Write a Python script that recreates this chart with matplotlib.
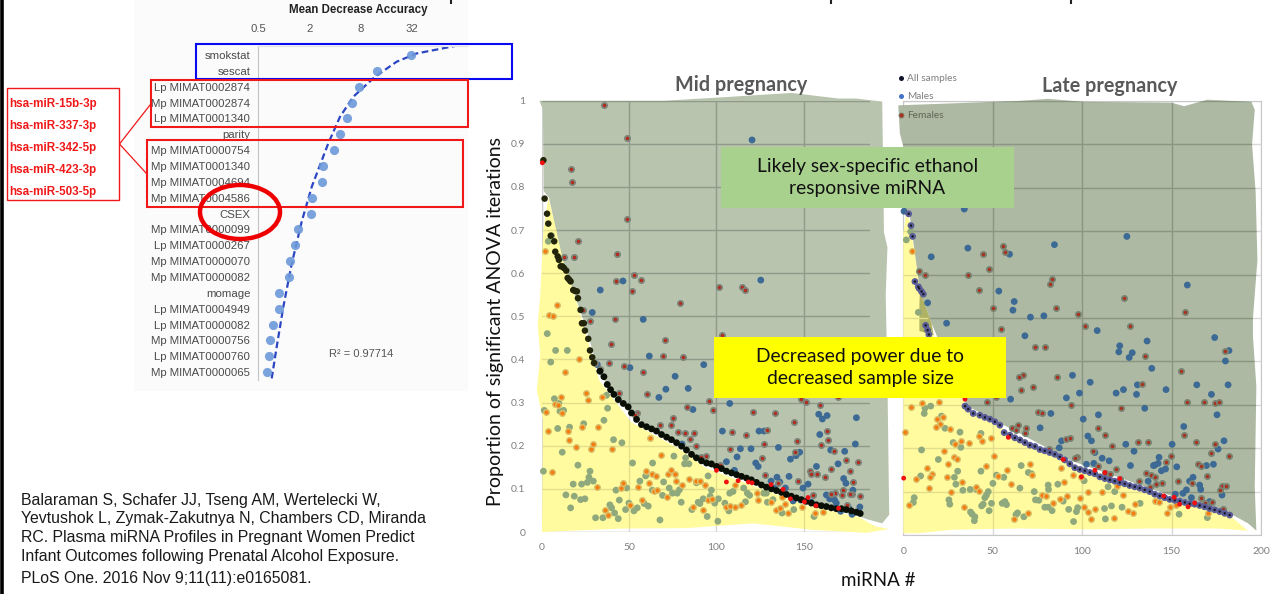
import numpy as np
import matplotlib
matplotlib.use("Agg")
import matplotlib.pyplot as plt
from matplotlib.patches import Rectangle, Ellipse, Polygon

W, H = 1271, 594
CAL = "Lato"
ARIAL = "Liberation Sans"

# left chart: variable importance
forest_labels = ["smokstat", "sescat", "Lp MIMAT0002874", "Mp MIMAT0002874", "Lp MIMAT0001340", "parity",
                 "Mp MIMAT0000754", "Mp MIMAT0001340", "Mp MIMAT0004694", "Mp MIMAT0004586", "CSEX",
                 "Mp MIMAT0000099", "Lp MIMAT0000267", "Mp MIMAT0000070", "Mp MIMAT0000082", "momage",
                 "Lp MIMAT0004949", "Lp MIMAT0000082", "Mp MIMAT0000756", "Lp MIMAT0000760", "Mp MIMAT0000065"]
forest_values = [31.2, 12.56, 7.6, 6.39, 5.58, 4.62, 3.9, 2.92, 2.82, 2.15, 2.08,
                 1.46, 1.36, 1.19, 1.165, 0.89, 0.89, 0.756, 0.69, 0.68, 0.633]
trend_x = [0.724, 0.829, 0.992, 1.24, 1.63, 2.14, 3.34, 4.58, 6.57, 11.8, 21.2, 36.4, 102]
trend_rank = [20.4, 18.4, 15.88, 13.2, 10.5, 8.3, 5.57, 3.9, 2.63, 1.37, 0.42, -0.1, -0.57]
forest_ticks = [0.5, 2, 8, 32]
mirna_names = ["hsa-miR-15b-3p", "hsa-miR-337-3p", "hsa-miR-342-5p", "hsa-miR-423-3p", "hsa-miR-503-5p"]
citation = ["Balaraman S, Schafer JJ, Tseng AM, Wertelecki W,",
            "Yevtushok L, Zymak-Zakutnya N, Chambers CD, Miranda",
            "RC. Plasma miRNA Profiles in Pregnant Women Predict",
            "Infant Outcomes following Prenatal Alcohol Exposure.",
            "PLoS One. 2016 Nov 9;11(11):e0165081."]

# mid pregnancy
mid_all = [(.8,.862),(1.5,.773),(2.9,.738),(3.6,.715),(5,.687),(7,.674),(7.6,.65),(9,.639),(9.7,.631),(10.7,.616),
           (11.6,.616),(12.6,.612),(13.9,.606),(14.7,.589),(15.6,.585),(16.4,.581),(17.9,.561),(18.9,.559),(20,.558),
           (20.6,.542),(22.1,.515),(22.9,.484),(24,.484),(24.6,.467),(26.5,.448),(27.5,.421),(28.8,.405),(29.8,.392),
           (33.2,.373),(35.5,.36),(37.4,.342),(39.3,.33),(41.2,.319),(43.7,.307),(46.6,.298),(49.4,.29),(51.3,.276),
           (54.2,.261),(57,.249),(59.9,.244),(62.8,.239),(65.6,.234),(68.5,.226),(71.4,.22),(74.2,.214),(77.1,.207),
           (80,.199),(82.8,.19),(85.7,.18),(88.5,.172),(91.4,.165),(94.3,.16),(97.1,.158),(100,.152),(102.9,.147),
           (105.7,.141),(108.6,.137),(111.5,.133),(114.3,.129),(117.2,.125),(120,.121),(122.9,.115),(125.8,.109),
           (128.6,.104),(131.5,.1),(134.4,.096),(137.2,.092),(140.1,.087),(142.9,.083),(145.8,.079),(148.7,.075),
           (151.5,.071),(154.4,.067),(157.3,.063),(160.1,.061),(163,.059),(165.8,.056),(168.7,.054),(171.6,.054),
           (174.4,.052),(177.3,.049),(180.2,.046),(182.4,.043)]
mid_female_high = [(35.5,.991),(48.5,.914),(16.6,.842),(17.2,.812),(49,.726),(20.6,.674),(43,.644),(12.4,.638),(18.5,.638),
                   (52.5,.595),(56.7,.584),(42.4,.581),(51.3,.558),(79,.531),(101.5,.567),(114.9,.567),(116.4,.561),
                   (23.3,.514),(41.6,.493),(27.3,.49),(70.4,.446),(39.5,.435),(69.5,.408),(30.2,.392),(38.4,.391),
                   (33.4,.377),(47.1,.386),(58,.37),(44.3,.323),(59.9,.319),(103.4,.456),(80.9,.405),(96,.303),(83,.289),
                   (97.9,.282),(54.4,.275),(53.2,.272),(75,.264),(74.2,.249),(67.6,.248),(78.2,.231),(81.9,.23),(87,.229),
                   (85.1,.215),(88.5,.199),(108.8,.231),(117.2,.226),(129.2,.237),(121.2,.278),(133.4,.275),(144.3,.256),
                   (127.1,.204),(108,.193),(126,.171),(128,.133),(102.3,.155),(93.9,.177),(91.2,.174),(135.3,.113),
                   (147,.118),(153.4,.141),(154.4,.135),(157.8,.135),(162,.127),(165.8,.146),(163.9,.213),(163.4,.234),
                   (160,.202),(146.2,.21),(145,.185),(159.2,.295),(151.1,.301),(148.3,.309),(169.7,.312),(181.3,.162),
                   (178.2,.115),(176.3,.141),(174.4,.168),(167.4,.187),(177.9,.087),(182.4,.083),(176.3,.087),(172.5,.098),
                   (167.7,.091),(165.8,.089),(171.9,.085),(175,.063),(155.2,.086)]
mid_female_edge = [(.2,.856),(100,.143),(105.7,.116),(112.4,.119),(118.3,.116),(120.4,.114),(131.3,.11),(138.2,.099),
                   (142.4,.077),(150.4,.07),(152.5,.08),(157,.061),(170,.055)]
mid_male_high = [(120.4,.909),(46.4,.582),(33.4,.561),(125.4,.584),(28.8,.509),(58,.493),(61.5,.408),(50.4,.381),(92.7,.388),
                 (76.3,.361),(71,.331),(83.8,.333),(67,.312),(86.5,.284),(107.6,.298),(103.4,.234),(124.4,.234),(127.3,.234),
                 (113.7,.193),(119.8,.193),(135.5,.196),(111.8,.174),(105.7,.163),(122.5,.16),(123.9,.152),(142.4,.169),
                 (145.6,.177),(147.7,.185),(110.3,.143),(131.3,.118),(134.7,.127),(141.6,.129),(136.3,.116),(139.5,.102),
                 (133.4,.102),(149.6,.102),(152.5,.111),(157.3,.152),(169.7,.158),(173.5,.187),(165.5,.19),(159.2,.226),
                 (158.6,.273),(160.7,.262),(163.4,.27),(180.2,.265),(179.6,.204),(172.9,.124),(174.2,.113),(163,.086),
                 (164.9,.077),(167.7,.074),(178.2,.097),(168.7,.067),(175.8,.056),(182.2,.058),(171.2,.048),(177.7,.041),
                 (154.4,.069),(148.3,.074),(143.9,.072),(33.2,.373),(80.3,.204),(31.7,.388)]
mid_male_low = [(3,.46),(7.8,.421),(14.5,.421),(5,.394),(.8,.141),(7.1,.309),(9.7,.298),(1.3,.282),(10.3,.28),(12.4,.282),
                (9,.24),(15.8,.243),(23.9,.251),(35.5,.259),(37.6,.287),(37,.317),(41,.214),(45.8,.207),(11.6,.185),(20.6,.155),
                (17.9,.111),(13.7,.086),(18.5,.083),(22.1,.075),(24.6,.077),(16.4,.056),(22.7,.111),(26,.115),(26.9,.127),
                (27.5,.141),(29.4,.118),(30.7,.033),(34.9,.033),(38.9,.063),(39.9,.056),(41.6,.044),(43.7,.031),(44.3,.074),
                (42.4,.097),(48.5,.102),(47.9,.052),(49.8,.067),(52.7,.049),(54.6,.056),(58.6,.066),(60.9,.06),(56.1,.118),
                (51.9,.16),(59.4,.13),(63.4,.16),(63.2,.097),(69.1,.085),(69.7,.116),(72.9,.102),(74.8,.09),(77.5,.09),
                (78.8,.098),(75.6,.176),(82.3,.172),(81.7,.158),(84.2,.158),(79.8,.069),(85.9,.052),(88.5,.114),(67.6,.028),
                (95.2,.13),(94.7,.036),(100.8,.025),(97.1,.097),(96.4,.083),(90.5,.066),(89.5,.069),(92.4,.077),(99,.067),
                (101.1,.077),(104.8,.067),(107.1,.049),(107.6,.09),(109.5,.094),(115.6,.102),(117.7,.09),(119,.085),(116.6,.07),
                (144.3,.052),(137.6,.044),(155.9,.036),(132.4,.075),(128.6,.09),(129.2,.069),(127.1,.09),(3.6,.674),(5.5,.687)]
mid_female_low = [(21.2,.401),(13.2,.372),(2.3,.278),(3.6,.234),(7.6,.296),(9,.295),(10.9,.313),(11.3,.275),(25.2,.323),
                  (26.1,.305),(34.2,.312),(22.7,.243),(32.3,.243),(14.7,.234),(15.3,.214),(19.3,.196),(28.1,.193),(29.4,.204),
                  (40.3,.193),(5.5,.138),(31.3,.105),(36.1,.052),(37.6,.039),(45,.102),(46.6,.113),(50.4,.063),(55.2,.104),
                  (57.1,.075),(59.5,.141),(61.5,.113),(63.2,.135),(65.3,.13),(64.3,.094),(66,.098),(71.4,.08),(72.3,.135),
                  (73.7,.143),(76.1,.135),(76.9,.118),(80.5,.108),(84.5,.124),(86.5,.058),(88.5,.119),(90.6,.119),(92,.052),
                  (93.3,.108),(95.2,.074),(97.5,.077),(61.8,.218),(68.1,.179),(110.5,.11),(105.2,.058),(107.6,.061),(110.5,.058),
                  (114.3,.063),(123.3,.091),(123.9,.074),(131.3,.069),(134,.052),(136.3,.056),(137.6,.08),(139.5,.066),(140.8,.044),
                  (142.6,.083),(148.9,.058),(156.5,.044),(161.1,.046),(8.4,.526),(4.2,.503),(6.3,.501),(1.7,.652)]

# late pregnancy
late_all = [(3,.74),(4.3,.713),(5.2,.688),(6.5,.584),(8.4,.572),(8.9,.568),(10.2,.561),(11.2,.555),(12.5,.483),(13.6,.472),
            (14.3,.462),(34.5,.297),(36.3,.29),(39.1,.28),(42.8,.276),(45.6,.271),(48.4,.267),(51.2,.261),(54,.253),(56.4,.236),
            (59.6,.23),(62.4,.224),(65.2,.219),(68,.213),(70.8,.207),(73.6,.204),(76.4,.197),(79.1,.194),(81.9,.19),(84.7,.186),
            (87.5,.18),(90.3,.173),(93.1,.164),(95.9,.155),(98.7,.151),(101.5,.148),(104.3,.144),(107.1,.141),(109.9,.134),
            (112.7,.13),(115.5,.127),(118.2,.124),(121,.121),(123.8,.118),(126.6,.114),(129.4,.111),(132.2,.108),(135,.104),
            (137.8,.1),(140.6,.094),(143.4,.09),(146.2,.086),(149,.082),(151.8,.08),(154.6,.078),(157.4,.075),(160.1,.072),
            (162.9,.071),(165.7,.068),(168.5,.065),(171.3,.061),(174.1,.058),(176.9,.054),(179.7,.05),(182.5,.046)]
late_male_high = [(34.1,.751),(.4,.746),(125,.688),(84.5,.669),(36.1,.661),(15.6,.641),(59.4,.647),(158.8,.576),(53.4,.562),
                  (62,.538),(61.3,.518),(13.6,.535),(71.1,.502),(78.6,.505),(24.2,.488),(108.4,.471),(68,.459),(174.1,.455),
                  (136.3,.447),(121,.436),(120.5,.422),(128,.42),(126.3,.409),(182.1,.425),(180.1,.401),(138.9,.384),(94.6,.368),
                  (104.5,.352),(164.1,.346),(181.6,.346),(130.9,.346),(146.9,.335),(123.1,.335),(119,.327),(98.5,.327),(130.4,.324),
                  (172.3,.324),(91.2,.316),(60,.313),(135,.292),(82.5,.28),(109.1,.277),(175.4,.277),(100.6,.267),(156.8,.25),
                  (76.5,.247),(103.2,.228),(105.2,.217),(88.5,.217),(179.3,.217),(150.3,.209),(124.4,.209),(87.2,.201),(176,.198),
                  (129,.193),(107.1,.19),(111.2,.177),(115.1,.171),(106.5,.165),(102.4,.163),(127,.16),(143,.179),(142.5,.165),
                  (140.6,.161),(139.9,.16),(144.3,.148),(146.6,.152),(152.9,.157),(169.5,.16),(173.4,.163),(162,.133),(160.1,.124),
                  (165.7,.115),(166.3,.105),(158.3,.104),(156.4,.096),(152.1,.094),(161.1,.086),(136.9,.124),(178.2,.092),(171.3,.077)]
late_female_high = [(55.9,.667),(56.6,.653),(44.7,.647),(48,.612),(36.1,.598),(8.9,.609),(12.1,.598),(83.2,.59),(81.8,.578),
                    (42.1,.565),(123.5,.546),(50.1,.524),(85.1,.524),(97.8,.51),(157.4,.513),(101.7,.481),(127,.481),(54.6,.474),
                    (73.9,.434),(79.1,.434),(135,.412),(180.1,.425),(155.5,.379),(66.7,.369),(64.6,.363),(85.8,.363),(72.6,.341),
                    (133.7,.349),(65.9,.335),(52.1,.319),(46.7,.306),(93.9,.3),(158.8,.306),(168.2,.306),(174.5,.303),(176.3,.306),
                    (121.6,.292),(75.2,.284),(77.3,.28),(60.5,.247),(64.1,.253),(62.8,.242),(68.7,.246),(68,.234),(109.1,.246),
                    (113,.231),(156.8,.231),(91.2,.221),(93.3,.224),(131.1,.215),(136.9,.215),(163.5,.215),(174.1,.209),(116.9,.204),
                    (81.2,.198),(105.8,.193),(172.1,.19),(181.9,.182),(149.5,.182),(97.4,.179),(95.9,.177),(147,.168),(108.9,.16),
                    (119,.152),(164.8,.163),(166.3,.16),(135.6,.144),(138.7,.138),(140.6,.133),(144.7,.119),(141.5,.117),(153.4,.124),
                    (170,.136),(121,.13),(131.7,.124),(112.7,.144),(115.8,.141),(161.5,.119),(178.2,.114),(180.6,.114),(176.9,.103),
                    (166.7,.086),(168.5,.073),(172.6,.075),(178.8,.061),(137.8,.111)]
late_female_edge = [(.2,.131),(58.7,.225),(34.5,.313),(89.4,.174),(107.1,.149),(112.7,.144),(99.6,.134),(145.6,.09),(151.4,.087),
                    (154.5,.071),(159.2,.065),(162.9,.074),(121,.13)]
late_male_low = [(15.3,.297),(12.1,.292),(11.7,.28),(21.4,.274),(23.3,.246),(31.7,.237),(43.4,.234),(27.9,.213),(32.2,.202),
                 (10.2,.196),(19.6,.174),(30.4,.147),(43.4,.147),(65.9,.16),(28.6,.133),(69.9,.144),(71.7,.141),(9.7,.136),(52.1,.138),
                 (56.2,.133),(101.1,.125),(29.4,.117),(50.1,.119),(37.4,.105),(33.3,.103),(41,.105),(65.2,.108),(81.2,.105),(86.4,.117),
                 (73.2,.1),(114.5,.111),(118.2,.1),(47.5,.1),(46.5,.092),(45.6,.086),(6.1,.086),(5.6,.075),(25.5,.081),(26,.071),
                 (44.7,.071),(43.8,.067),(49.3,.073),(55.3,.073),(56.8,.077),(57.7,.07),(73.9,.081),(75.8,.08),(81,.115),(89.4,.078),
                 (79.1,.064),(81,.064),(83.2,.056),(92.5,.059),(97.5,.063),(96.8,.054),(112.5,.061),(116.4,.067),(122.3,.064),(132.4,.073),
                 (37.6,.053),(48,.056),(38.5,.048),(40,.042),(39.7,.033),(63.9,.051),(63,.047),(67.4,.042),(95.2,.031),(113,.037),
                 (154.2,.048),(170,.04),(4.1,.699),(1.7,.68),(8.4,.513)]
late_female_low = [(4.3,.294),(10.2,.303),(20.1,.306),(18.8,.267),(22.2,.273),(20.5,.256),(18.1,.248),(26.1,.244),(.9,.237),(32.2,.217),
                   (42.6,.227),(44.1,.217),(48.8,.224),(28.9,.21),(36.9,.213),(22.7,.193),(28.1,.18),(30.2,.174),(50.7,.182),(24.8,.163),
                   (46,.16),(70.6,.163),(13,.155),(58.1,.149),(16.2,.141),(14.9,.133),(6.9,.13),(24.2,.133),(71.7,.138),(52.7,.136),
                   (87.9,.155),(94.9,.138),(99.6,.134),(32.8,.122),(40.6,.111),(60,.117),(14.2,.108),(89.8,.122),(26.8,.098),(42.1,.101),
                   (77.8,.093),(79.9,.09),(103.2,.098),(111.2,.098),(122.9,.093),(91.8,.089),(98.9,.086),(87.5,.083),(83.8,.073),
                   (107.1,.059),(101.1,.065),(103.2,.054),(105.2,.037),(117.7,.04),(125.5,.056),(128.5,.05),(129.6,.071),(140.8,.078),
                   (143,.076),(147.7,.051),(149,.064),(152.7,.068),(170.6,.051),(3,.068),(34.1,.065),(69.8,.051),(62,.037),(119.7,.114),(5,.655)]

legend_labels = ["All samples", "Males", "Females"]

# hand drawn highlight shapes on the slide
mid_green = [(-1.5,1.0),(30,1.0),(70,1.0),(100,1.007),(143,1.018),(170,1.005),(180,1.005),(195,.998),(196,.695),(198,.66),(197,.55),
             (198,.35),(199,.04),(195,.02),(186,.03),(182,.036),(151,.068),(120,.115),(94,.154),(79,.2),(52,.27),(33,.365),(25.5,.47),
             (12,.63),(4,.775),(1,.79),(.5,.98)]
mid_yellow = [(3.6,.775),(.8,.70),(-1,.55),(-2.5,.48),(-1,.41),(-3,.33),(.5,.26),(0,0),(46,.008),(83,.009),(121,.02),(155,.005),
              (186,-.002),(199,.007),(191,.013),(182,.034),(151,.062),(120,.109),(94,.148),(79,.192),(51,.255),(33,.35),(25.5,.455),(15,.6)]
late_green = [(-2.8,.99),(64,1.0),(81,1.005),(101,.998),(150,.996),(157,.988),(170,1.003),(194.6,.998),(196.5,.98),(195,.9),(197,.79),
              (198,.634),(195.5,.5),(195.5,.457),(197.4,.342),(196.5,.111),(197.4,.01),(192.7,.027),(182.5,.05),(150,.09),(94,.171),
              (56.8,.252),(36.3,.296),(33.5,.313),(15.8,.488),(9.3,.564),(3.7,.733),(0,.749),(0,.895),(-1.9,.925)]
late_yellow = [(1.9,.749),(0,.695),(0,.004),(8.4,.004),(27,.012),(64,.015),(101.5,.013),(138.7,.015),(176,.015),(192.7,.01),(183.4,.042),
               (150,.085),(94,.165),(56.8,.242),(36.3,.288),(15.8,.47),(9.3,.57),(3.7,.72)]
late_olive = [(9.3,.564),(15.8,.488),(17,.46),(9,.47),(9,.53)]


def px_axes(fig, left, right, top, bottom):
    return fig.add_axes([left / W, 1 - bottom / H, (right - left) / W, (bottom - top) / H])


def draw_panel(ax, green, yellow, green_col, grid_col, xmax):
    ax.set_xlim(0, xmax)
    ax.set_ylim(0, 1)
    ax.set_facecolor("none")
    ax.grid(True, color="#d9d9d9", lw=1)
    ax.set_axisbelow(True)
    ax.tick_params(length=0, labelcolor="#7f7f7f", labelsize=7.5)
    ax.set_xticks(range(0, xmax + 1, 50))
    ax.set_yticks(np.arange(0, 1.01, 0.1))
    g = Polygon(green, closed=True, fc=green_col, ec="none", zorder=1.2, clip_on=False)
    y = Polygon(yellow, closed=True, fc="#fffb9e", ec="none", zorder=1.1, clip_on=False)
    ax.add_patch(y)
    ax.add_patch(g)
    # the grid shows through the shapes
    for patch, col in ((g, grid_col), (y, "#e2de8e")):
        for v in np.arange(0.1, 1.01, 0.1):
            ln, = ax.plot([0, xmax], [v, v], color=col, lw=1, zorder=1.3)
            ln.set_clip_path(patch)
        for v in range(50, xmax, 50):
            ln, = ax.plot([v, v], [0, 1], color=col, lw=1, zorder=1.3)
            ln.set_clip_path(patch)


def dots(ax, pts, fc, ec="none", s=20, lw=0, z=3):
    a = np.array(pts)
    ax.scatter(a[:, 0], a[:, 1], s=s, c=fc, edgecolors=ec, linewidths=lw, zorder=z, clip_on=False)


fig = plt.figure(figsize=(W / 100, H / 100), dpi=100, facecolor="white")

page = fig.add_axes([0, 0, 1, 1], zorder=0)
page.set_xlim(0, W)
page.set_ylim(H, 0)
page.axis("off")
page.add_patch(Rectangle((134, 0), 334, 391, fc="#fbfbfb", ec="none"))

# variable importance chart
ax0 = px_axes(fig, 258, 468, 46, 380)
ax0.set_zorder(1)
ax0.set_facecolor("none")
ax0.set_xscale("log", base=2)
ax0.set_xlim(0.5, 145.7)
ax0.set_ylim(20.5, -0.57)
ax0.plot(trend_x, trend_rank, color="#2b45c4", lw=1.6, ls=(0, (3, 1.6)), zorder=2)
ax0.plot(forest_values, range(len(forest_values)), "o", ms=6.6, color="#6c99d9", mec="none", alpha=0.9, zorder=3)
ax0.xaxis.tick_top()
ax0.set_xticks(forest_ticks)
ax0.set_xticklabels(["0.5", "2", "8", "32"], family=ARIAL, fontsize=8.2, color="#555555")
ax0.minorticks_off()
ax0.tick_params(axis="x", length=0, pad=9)
ax0.set_yticks(range(len(forest_labels)))
ax0.set_yticklabels(forest_labels, family=ARIAL, fontsize=8.2, color="#4a4a4a")
ax0.tick_params(axis="y", length=0, pad=5.5)
for s in ["right", "bottom"]:
    ax0.spines[s].set_visible(False)
ax0.spines["left"].set_color("#c4c4c4")
ax0.spines["top"].set_color("#e4e4e4")

# mid pregnancy panel
ax1 = px_axes(fig, 542, 870, 100.7, 532)
ax1.set_zorder(2)
draw_panel(ax1, mid_green, mid_yellow, "#b8c4ae", "#8f9a88", 188)
ax1.set_yticklabels(["0", "0.1", "0.2", "0.3", "0.4", "0.5", "0.6", "0.7", "0.8", "0.9", "1"], family=CAL)
ax1.set_xticklabels(["0", "50", "100", "150"], family=CAL)
ax1.tick_params(axis="y", pad=12)
ax1.tick_params(axis="x", pad=8)
for s in ax1.spines.values():
    s.set_visible(False)
ax1.axhline(0, color="#cfcfcf", lw=1, zorder=1.05)
ax1.axvline(0, color="#cfcfcf", lw=1, zorder=1.05)
dots(ax1, mid_male_low, "#90a97c", s=24)
dots(ax1, mid_female_low, "#f57c10", ec="#d9c06a", s=16, lw=1)
dots(ax1, mid_male_high, "#3d6a94", s=24)
dots(ax1, mid_female_high, "#b4291a", ec="#7d8378", s=14, lw=1.3)
dots(ax1, mid_all[:28], "#23250a", s=22, z=4)
dots(ax1, mid_all[28:], "#0a0f05", s=24, z=4)
dots(ax1, mid_female_edge, "#f01010", s=12, z=5)

# late pregnancy panel
ax2 = px_axes(fig, 903.3, 1261, 101, 535)
ax2.set_zorder(2)
draw_panel(ax2, late_green, late_yellow, "#adb9a2", "#8a9582", 200)
ax2.add_patch(Polygon(late_olive, closed=True, fc="#aeb262", ec="none", zorder=1.25))
ax2.set_yticklabels([])
ax2.set_xticklabels(["0", "50", "100", "150", "200"], family=CAL)
ax2.tick_params(axis="x", pad=9)
for s in ax2.spines.values():
    s.set_color("#c8c8c8")
    s.set_zorder(1.05)
dots(ax2, late_male_low, "#90a97c", s=24)
dots(ax2, late_female_low, "#f57c10", ec="#d9c06a", s=16, lw=1)
dots(ax2, late_male_high, "#3d6a94", s=24)
dots(ax2, late_female_high, "#a9301c", ec="#7a8272", s=14, lw=1.3)
dots(ax2, late_all, "#5a5d98", s=24, z=4)
dots(ax2, late_all, "#16161e", s=3, z=4.5)
dots(ax2, late_female_edge, "#f01010", s=12, z=5)

# everything placed on the slide itself
top = fig.add_axes([0, 0, 1, 1], zorder=10)
top.set_xlim(0, W)
top.set_ylim(H, 0)
top.axis("off")
top.patch.set_alpha(0)

top.plot([1.5, 1.5], [0, H], color="black", lw=2.6)
for xp in (451, 831, 1071):
    top.plot([xp, xp], [0, 3], color="#222222", lw=1.5)

top.text(358, 10, "Mean Decrease Accuracy", family=ARIAL, fontsize=8.3, fontweight="bold", ha="center", va="center", color="#222222")
top.text(361, 354, "R² = 0.97714", family=ARIAL, fontsize=8, ha="center", va="center", color="#555555")

top.add_patch(Rectangle((196, 43.5), 316, 35, fc="none", ec="#0a0af0", lw=1.5))
top.add_patch(Rectangle((150.5, 80), 317.5, 47, fc="none", ec="#f01818", lw=1.5))
top.add_patch(Rectangle((146.5, 140), 316.5, 67, fc="none", ec="#f01818", lw=1.5))
top.add_patch(Ellipse((240, 212), 80, 54, fc="none", ec="#ee0000", lw=3.2))

top.add_patch(Rectangle((7, 88), 112, 112, fc="white", ec="#f01818", lw=1))
top.plot([150, 119.5, 146], [105, 144, 173], color="#f01818", lw=0.9)
for i, name in enumerate(mirna_names):
    top.text(9, 104 + 22 * i, name, family=ARIAL, fontsize=8.4, fontweight="bold", color="#f01818", va="center")

for yp, line in zip((500, 519, 537.5, 557, 578), citation):
    top.text(21, yp, line, family=ARIAL, fontsize=11.45, color="#1a1a1a", va="center")

top.text(741, 85, "Mid pregnancy", family=CAL, fontsize=14.2, fontweight="bold", color="#595959", ha="center", va="center")
top.text(1110, 86, "Late pregnancy", family=CAL, fontsize=14.2, fontweight="bold", color="#595959", ha="center", va="center")
top.text(495, 322, "Proportion of significant ANOVA iterations", family=CAL, fontsize=14, rotation=90, color="#111111", ha="center", va="center")
top.text(878, 581, "miRNA #", family=CAL, fontsize=13.5, color="#111111", ha="center", va="center")

for yp, lab, col in zip((78, 96, 115), legend_labels, ("#10122a", "#4472c4", "#a9301c")):
    top.plot([901], [yp], "o", ms=3.6, color=col, mec="#7a8272" if lab == "Females" else "none", mew=0.6)
    top.text(907, yp + 0.5, lab, family=CAL, fontsize=7.3, color="#7f7f7f" if lab != "Females" else "#5f6658", va="center")

top.add_patch(Rectangle((721, 147), 293, 61, fc="#a9d18e", ec="none"))
top.text(867.5, 177.5, "Likely sex-specific ethanol\nresponsive miRNA", family=CAL, fontsize=13.9, color="#111111",
         ha="center", va="center", linespacing=1.35)
top.add_patch(Rectangle((714, 337), 292, 61, fc="#ffff00", ec="none"))
top.text(860, 367.5, "Decreased power due to\ndecreased sample size", family=CAL, fontsize=13.9, color="#111111",
         ha="center", va="center", linespacing=1.35)

fig.savefig("out.png", dpi=100)
